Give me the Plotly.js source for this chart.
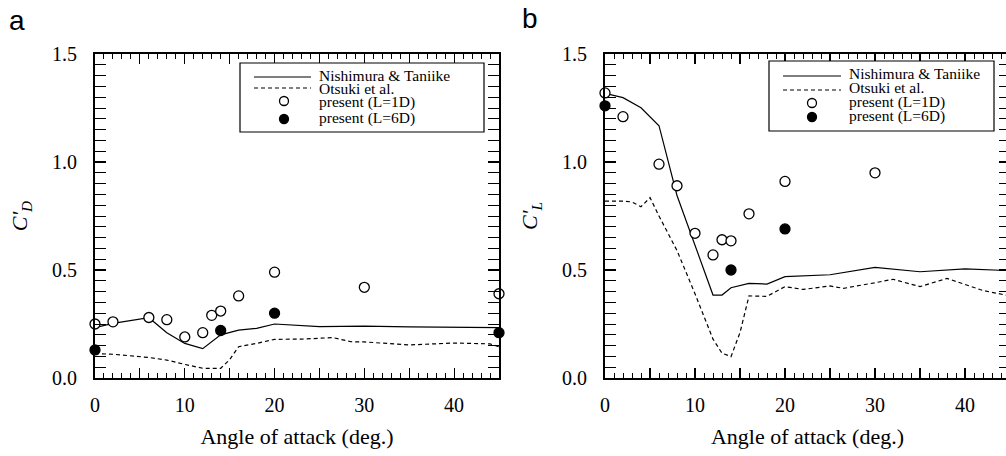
<!DOCTYPE html>
<html>
<head>
<meta charset="utf-8">
<script src="https://cdn.plot.ly/plotly-3.0.1.min.js"></script>
<style>
  html, body { margin: 0; padding: 0; background: #fff; overflow: hidden; }
  #chart { width: 1012px; height: 456px; }
</style>
</head>
<body>
<div id="chart"></div>
<script>
// ---------- DATA ----------
// Panel a : fluctuating drag coefficient C'D
const angleD_1D = [0, 2, 6, 8, 10, 12, 13, 14, 16, 20, 30, 45];
const cd_1D     = [0.25, 0.26, 0.28, 0.27, 0.19, 0.21, 0.29, 0.31, 0.38, 0.49, 0.42, 0.39];
const angleD_6D = [0, 14, 20, 45];
const cd_6D     = [0.13, 0.22, 0.30, 0.21];
const nishiAngleD = [0, 2, 6, 8, 10, 12, 14, 16, 18, 20, 25, 30, 35, 40, 45];
const nishiCD     = [0.233, 0.253, 0.279, 0.21, 0.16, 0.136, 0.2, 0.222, 0.23, 0.25, 0.238, 0.24, 0.237, 0.234, 0.233];
const otsukiAngleD = [0, 2, 6, 8, 10, 12, 14, 15, 16, 18, 20, 23, 26.5, 28.5, 30, 35, 40, 44, 45];
const otsukiCD     = [0.113, 0.11, 0.095, 0.083, 0.063, 0.045, 0.045, 0.085, 0.145, 0.16, 0.179, 0.18, 0.187, 0.168, 0.167, 0.153, 0.162, 0.158, 0.145];

// Panel b : fluctuating lift coefficient C'L
const angleL_1D = [0, 2, 6, 8, 10, 12, 13, 14, 16, 20, 30];
const cl_1D     = [1.32, 1.21, 0.99, 0.89, 0.67, 0.57, 0.64, 0.635, 0.76, 0.91, 0.95];
const angleL_6D = [0, 14, 20];
const cl_6D     = [1.26, 0.50, 0.69];
const nishiAngleL = [0, 2, 4, 6, 8, 10, 12, 13, 14, 16, 18, 20, 25, 30, 35, 40, 45];
const nishiCL     = [1.318, 1.298, 1.251, 1.168, 0.845, 0.61, 0.384, 0.384, 0.418, 0.438, 0.435, 0.469, 0.478, 0.512, 0.492, 0.505, 0.497];
const otsukiAngleL = [0, 2, 3, 4, 5, 6, 8, 10, 12, 13, 14, 15, 16, 18, 20, 22, 25, 26.5, 30, 32, 35, 38, 42, 45];
const otsukiCL     = [0.819, 0.819, 0.815, 0.793, 0.835, 0.75, 0.59, 0.39, 0.18, 0.115, 0.099, 0.21, 0.38, 0.378, 0.423, 0.41, 0.426, 0.415, 0.441, 0.457, 0.423, 0.461, 0.405, 0.38];

const seriesNames = ["Nishimura & Taniike", "Otsuki et al.", "present (L=1D)", "present (L=6D)"];
const xLabelVals = [0, 10, 20, 30, 40];          // labelled x ticks
const xHalfVals  = [5, 15, 25, 35, 45];          // long unlabelled x ticks
const yTickVals = [0, 0.5, 1.0, 1.5];
const yTickText = ["0.0", "0.5", "1.0", "1.5"];

// ---------- LAYOUT HELPERS ----------
const W = 1012, H = 456;
const px = v => v / W;
const py = v => 1 - v / H;
const SERIF = "Liberation Serif";

function lineTrace(x, y, name, dash, xa, ya) {
  return { x: x, y: y, name: name, type: "scatter", mode: "lines",
    line: { color: "#000", width: 1.2, dash: dash }, xaxis: xa, yaxis: ya,
    showlegend: false, cliponaxis: false };
}
function markerTrace(x, y, name, filled, xa, ya) {
  return { x: x, y: y, name: name, type: "scatter", mode: "markers",
    marker: { symbol: "circle", size: 10, color: filled ? "#000" : "#fff",
      line: { color: "#000", width: 1.3 } },
    xaxis: xa, yaxis: ya, showlegend: false, cliponaxis: false };
}
function tickHelper(xa, ya) {
  return { x: [], y: [], type: "scatter", mode: "lines", xaxis: xa, yaxis: ya,
    showlegend: false, hoverinfo: "skip" };
}

const traces = [
  lineTrace(nishiAngleD, nishiCD, seriesNames[0], "solid", "x", "y"),
  lineTrace(otsukiAngleD, otsukiCD, seriesNames[1], "4px,3px", "x", "y"),
  markerTrace(angleD_1D, cd_1D, seriesNames[2], false, "x", "y"),
  markerTrace(angleD_6D, cd_6D, seriesNames[3], true, "x", "y"),
  lineTrace(nishiAngleL, nishiCL, seriesNames[0], "solid", "x2", "y2"),
  lineTrace(otsukiAngleL, otsukiCL, seriesNames[1], "4px,3px", "x2", "y2"),
  markerTrace(angleL_1D, cl_1D, seriesNames[2], false, "x2", "y2"),
  markerTrace(angleL_6D, cl_6D, seriesNames[3], true, "x2", "y2"),
  tickHelper("x3", "y"),
  tickHelper("x4", "y2")
];

function xAxis(domain, anchor) {
  return {
    domain: domain, anchor: anchor, range: [0, 45], autorange: false,
    tickmode: "array", tickvals: xLabelVals,
    ticks: "inside", ticklen: 10, tickwidth: 1.2, tickcolor: "#000",
    minor: { dtick: 1, ticks: "inside", ticklen: 5, tickwidth: 1, tickcolor: "#000" },
    showline: true, linecolor: "#000", linewidth: 2, mirror: "allticks",
    showgrid: false, zeroline: false, automargin: false,
    ticklabelstandoff: 8,
    tickfont: { family: SERIF, size: 20, color: "#000" },
    title: { text: "Angle of attack (deg.)", standoff: 14,
      font: { family: SERIF, size: 22, color: "#000" } }
  };
}
function xHalfAxis(domain, anchor, over) {
  return {
    domain: domain, anchor: anchor, overlaying: over, range: [0, 45], autorange: false,
    tickmode: "array", tickvals: xHalfVals, showticklabels: false,
    ticks: "inside", ticklen: 10, tickwidth: 1.2, tickcolor: "#000",
    showline: false, mirror: "ticks", showgrid: false, zeroline: false, automargin: false
  };
}
function yAxis(domain, anchor, titleText) {
  return {
    domain: domain, anchor: anchor, range: [0, 1.5], autorange: false,
    tickmode: "array", tickvals: yTickVals, ticktext: yTickText,
    ticks: "inside", ticklen: 11, tickwidth: 1.2, tickcolor: "#000",
    minor: { dtick: 0.05, ticks: "inside", ticklen: 6, tickwidth: 1, tickcolor: "#000" },
    showline: true, linecolor: "#000", linewidth: 2, mirror: "allticks",
    showgrid: false, zeroline: false, automargin: false,
    ticklabelstandoff: 12,
    tickfont: { family: SERIF, size: 20, color: "#000" },
    title: { text: titleText, standoff: 18,
      font: { family: SERIF, size: 22, color: "#000" } }
  };
}

const yDom = [1 - 378 / H, 1 - 54 / H];
const xDomA = [95 / W, 499 / W];
const xDomB = [605 / W, 1010 / W];

// manual legends (box, samples, labels)
const shapes = [];
const annotations = [];
function addLegend(box, lineX0, lineX1, rowsY, markX, textX, textY) {
  shapes.push({ type: "rect", xref: "paper", yref: "paper",
    x0: px(box[0]), x1: px(box[1]), y0: py(box[3]), y1: py(box[2]),
    line: { color: "#000", width: 1.2 }, fillcolor: "#fff", layer: "above" });
  shapes.push({ type: "line", xref: "paper", yref: "paper",
    x0: px(lineX0), x1: px(lineX1), y0: py(rowsY[0]), y1: py(rowsY[0]),
    line: { color: "#000", width: 1.2 } });
  shapes.push({ type: "line", xref: "paper", yref: "paper",
    x0: px(lineX0), x1: px(lineX1), y0: py(rowsY[1]), y1: py(rowsY[1]),
    line: { color: "#000", width: 1.2, dash: "4px,3px" } });
  const r = 4.5;
  shapes.push({ type: "circle", xref: "paper", yref: "paper",
    x0: px(markX - r), x1: px(markX + r), y0: py(rowsY[2] + r), y1: py(rowsY[2] - r),
    line: { color: "#000", width: 1.3 }, fillcolor: "#fff" });
  shapes.push({ type: "circle", xref: "paper", yref: "paper",
    x0: px(markX - r), x1: px(markX + r), y0: py(rowsY[3] + r), y1: py(rowsY[3] - r),
    line: { color: "#000", width: 1.3 }, fillcolor: "#000" });
  for (let i = 0; i < 4; i++) {
    annotations.push({ xref: "paper", yref: "paper", x: px(textX), y: py(textY[i]),
      xanchor: "left", yanchor: "middle", showarrow: false, text: seriesNames[i],
      font: { family: SERIF, size: 15.5, color: "#000" } });
  }
}
addLegend([240, 484, 63, 132], 254, 311, [77, 88, 101, 119], 284, 317, [75.5, 88.5, 101.5, 118]);
addLegend([769, 994, 61, 131], 783, 841, [76, 90, 103, 117], 812, 847, [74, 88, 102, 116]);

annotations.push({ xref: "paper", yref: "paper", x: px(17), y: py(21), xanchor: "center", yanchor: "middle",
  showarrow: false, text: "a", font: { family: "Liberation Sans", size: 28, color: "#000" } });
annotations.push({ xref: "paper", yref: "paper", x: px(530), y: py(19), xanchor: "center", yanchor: "middle",
  showarrow: false, text: "b", font: { family: "Liberation Sans", size: 28, color: "#000" } });

const layout = {
  width: W, height: H,
  margin: { l: 0, r: 0, t: 0, b: 0 },
  font: { family: SERIF, color: "#000" },
  paper_bgcolor: "#fff", plot_bgcolor: "#fff",
  showlegend: false,
  xaxis: xAxis(xDomA, "y"),
  yaxis: yAxis(yDom, "x", "<i>C'</i><sub><i>D</i></sub>"),
  xaxis2: xAxis(xDomB, "y2"),
  yaxis2: yAxis(yDom, "x2", "<i>C'</i><sub><i>L</i></sub>"),
  xaxis3: xHalfAxis(xDomA, "y", "x"),
  xaxis4: xHalfAxis(xDomB, "y2", "x2"),
  shapes: shapes,
  annotations: annotations
};

Plotly.newPlot("chart", traces, layout, { displayModeBar: false, staticPlot: true });
</script>
</body>
</html>
